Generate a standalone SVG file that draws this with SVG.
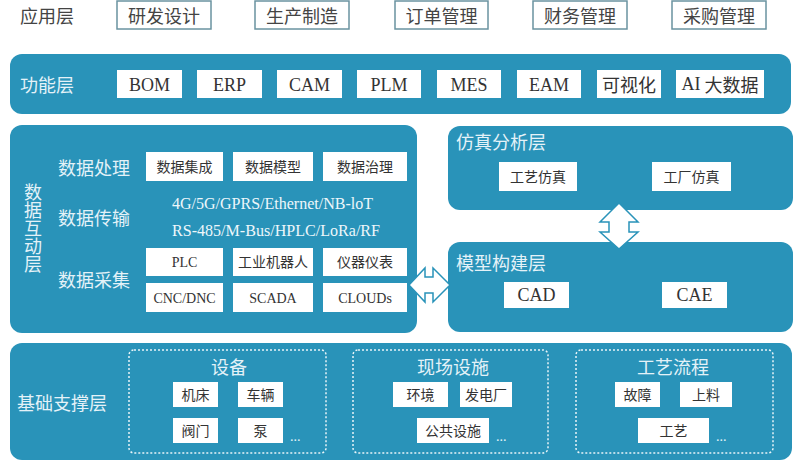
<svg xmlns="http://www.w3.org/2000/svg" width="800" height="471" viewBox="0 0 800 471">
<style>
.panel{fill:#2993b9}
.app{fill:#fff;stroke:#6a93a0;stroke-width:1.5}
.box{fill:#fff}
.grp{fill:none;stroke:#e8f4f8;stroke-width:1.5;stroke-dasharray:2 2}
.cn{font-family:"Noto Sans CJK SC","Noto Sans",sans-serif}
.en{font-family:"Liberation Serif","Times New Roman",serif}
.lab{fill:#e4f2f8;font-size:18px}
.dark{fill:#333}
.apt{fill:#444;font-size:18px}
.bt{font-size:14px}
.ft{font-size:18px}
.arrow{fill:#fff;stroke:#2993b9;stroke-width:1.5;stroke-linejoin:miter}
.vert{writing-mode:vertical-rl}
text{dominant-baseline:central}
</style>
<rect width="800" height="471" fill="#fff"/>
<g id="app-layer">
<text class="cn apt" x="20" y="15">应用层</text>
<g id="app-1"><rect class="app" x="117" y="1" width="94" height="28"/><text class="cn apt" x="164" y="15" text-anchor="middle">研发设计</text></g>
<g id="app-2"><rect class="app" x="255" y="1" width="94" height="28"/><text class="cn apt" x="302" y="15" text-anchor="middle">生产制造</text></g>
<g id="app-3"><rect class="app" x="395" y="1" width="93" height="28"/><text class="cn apt" x="441.5" y="15" text-anchor="middle">订单管理</text></g>
<g id="app-4"><rect class="app" x="533" y="1" width="94" height="28"/><text class="cn apt" x="580" y="15" text-anchor="middle">财务管理</text></g>
<g id="app-5"><rect class="app" x="672" y="1" width="94" height="28"/><text class="cn apt" x="719" y="15" text-anchor="middle">采购管理</text></g>
</g>
<g id="func-layer">
<rect class="panel" x="10" y="54" width="781" height="60" rx="12"/>
<text class="cn lab" x="20" y="84">功能层</text>
<g id="f-bom"><rect class="box" x="117" y="70" width="65" height="28"/><text class="en ft dark" x="149.5" y="85" text-anchor="middle">BOM</text></g>
<g id="f-erp"><rect class="box" x="197" y="70" width="65" height="28"/><text class="en ft dark" x="229.5" y="85" text-anchor="middle">ERP</text></g>
<g id="f-cam"><rect class="box" x="277" y="70" width="65" height="28"/><text class="en ft dark" x="309.5" y="85" text-anchor="middle">CAM</text></g>
<g id="f-plm"><rect class="box" x="357" y="70" width="64" height="28"/><text class="en ft dark" x="389" y="85" text-anchor="middle">PLM</text></g>
<g id="f-mes"><rect class="box" x="437" y="70" width="64" height="28"/><text class="en ft dark" x="469" y="85" text-anchor="middle">MES</text></g>
<g id="f-eam"><rect class="box" x="517" y="70" width="64" height="28"/><text class="en ft dark" x="549" y="85" text-anchor="middle">EAM</text></g>
<g id="f-vis"><rect class="box" x="597" y="70" width="64" height="28"/><text class="cn ft dark" x="629" y="84" text-anchor="middle">可视化</text></g>
<g id="f-ai"><rect class="box" x="676" y="70" width="88" height="28"/><text class="cn ft dark" x="720" y="84" text-anchor="middle"><tspan class="en">AI</tspan> 大数据</text></g>
</g>
<g id="data-layer">
<rect class="panel" x="10" y="125" width="407" height="208" rx="12"/>
<text class="cn vert" fill="#e4f2f8" font-size="18" x="33" y="183">数据互动层</text>
<text class="cn lab" x="58" y="167">数据处理</text>
<text class="cn lab" x="58" y="217">数据传输</text>
<text class="cn lab" x="58" y="279">数据采集</text>
<text class="en" fill="#eef7fb" font-size="16" x="172" y="203" textLength="201" lengthAdjust="spacingAndGlyphs">4G/5G/GPRS/Ethernet/NB-loT</text>
<text class="en" fill="#eef7fb" font-size="16" x="172" y="230" textLength="208" lengthAdjust="spacingAndGlyphs">RS-485/M-Bus/HPLC/LoRa/RF</text>
<g id="d-int"><rect class="box" x="146" y="152" width="77" height="29"/><text class="cn bt dark" x="184.5" y="166" text-anchor="middle">数据集成</text></g>
<g id="d-mod"><rect class="box" x="233" y="152" width="80" height="29"/><text class="cn bt dark" x="273" y="166" text-anchor="middle">数据模型</text></g>
<g id="d-gov"><rect class="box" x="323" y="152" width="84" height="29"/><text class="cn bt dark" x="365" y="166" text-anchor="middle">数据治理</text></g>
<g id="d-plc"><rect class="box" x="146" y="248" width="77" height="28"/><text class="en bt dark" x="184.5" y="262" text-anchor="middle">PLC</text></g>
<g id="d-robot"><rect class="box" x="233" y="248" width="80" height="28"/><text class="cn bt dark" x="273" y="261" text-anchor="middle">工业机器人</text></g>
<g id="d-inst"><rect class="box" x="323" y="248" width="84" height="28"/><text class="cn bt dark" x="365" y="261" text-anchor="middle">仪器仪表</text></g>
<g id="d-cnc"><rect class="box" x="146" y="283" width="77" height="29"/><text class="en bt dark" x="184.5" y="298" text-anchor="middle">CNC/DNC</text></g>
<g id="d-scada"><rect class="box" x="233" y="283" width="80" height="29"/><text class="en bt dark" x="273" y="298" text-anchor="middle">SCADA</text></g>
<g id="d-cloud"><rect class="box" x="323" y="283" width="84" height="29"/><text class="en bt dark" x="365" y="298" text-anchor="middle">CLOUDs</text></g>
</g>
<g id="sim-layer">
<rect class="panel" x="448" y="126" width="345" height="84" rx="12"/>
<text class="cn lab" x="456" y="141">仿真分析层</text>
<g id="s-proc"><rect class="box" x="499" y="162" width="78" height="29"/><text class="cn bt dark" x="538" y="176" text-anchor="middle">工艺仿真</text></g>
<g id="s-fact"><rect class="box" x="652" y="162" width="79" height="29"/><text class="cn bt dark" x="691.5" y="176" text-anchor="middle">工厂仿真</text></g>
</g>
<g id="model-layer">
<rect class="panel" x="448" y="242" width="345" height="90" rx="12"/>
<text class="cn lab" x="456" y="262">模型构建层</text>
<g id="m-cad"><rect class="box" x="504" y="282" width="65" height="26"/><text class="en ft dark" x="536.5" y="295" text-anchor="middle">CAD</text></g>
<g id="m-cae"><rect class="box" x="662" y="282" width="65" height="26"/><text class="en ft dark" x="694.5" y="295" text-anchor="middle">CAE</text></g>
</g>
<g id="base-layer">
<rect class="panel" x="10" y="343" width="782" height="117" rx="12"/>
<text class="cn lab" x="17" y="402">基础支撑层</text>
<g id="g-equip">
<rect class="grp" x="129" y="350" width="197" height="103" rx="5"/>
<text class="cn lab" x="229" y="366" text-anchor="middle">设备</text>
<rect class="box" x="173" y="382" width="45" height="25"/><text class="cn bt dark" x="195.5" y="394" text-anchor="middle">机床</text>
<rect class="box" x="238" y="382" width="45" height="25"/><text class="cn bt dark" x="260.5" y="394" text-anchor="middle">车辆</text>
<rect class="box" x="173" y="418" width="45" height="25"/><text class="cn bt dark" x="195.5" y="430" text-anchor="middle">阀门</text>
<rect class="box" x="238" y="418" width="45" height="25"/><text class="cn bt dark" x="260.5" y="430" text-anchor="middle">泵</text>
<text class="en" fill="#e4f2f8" font-size="14" x="290" y="436">...</text>
</g>
<g id="g-site">
<rect class="grp" x="353" y="350" width="195" height="103" rx="5"/>
<text class="cn lab" x="453" y="366" text-anchor="middle">现场设施</text>
<rect class="box" x="393" y="382" width="55" height="25"/><text class="cn bt dark" x="420.5" y="394" text-anchor="middle">环境</text>
<rect class="box" x="460" y="382" width="52" height="25"/><text class="cn bt dark" x="486" y="394" text-anchor="middle">发电厂</text>
<rect class="box" x="417" y="418" width="72" height="25"/><text class="cn bt dark" x="453" y="430" text-anchor="middle">公共设施</text>
<text class="en" fill="#e4f2f8" font-size="14" x="496" y="436">...</text>
</g>
<g id="g-flow">
<rect class="grp" x="576" y="350" width="197" height="103" rx="5"/>
<text class="cn lab" x="673" y="366" text-anchor="middle">工艺流程</text>
<rect class="box" x="615" y="382" width="45" height="25"/><text class="cn bt dark" x="637.5" y="394" text-anchor="middle">故障</text>
<rect class="box" x="680" y="382" width="52" height="25"/><text class="cn bt dark" x="706" y="394" text-anchor="middle">上料</text>
<rect class="box" x="638" y="418" width="71" height="25"/><text class="cn bt dark" x="673.5" y="430" text-anchor="middle">工艺</text>
<text class="en" fill="#e4f2f8" font-size="14" x="716" y="436">...</text>
</g>
</g>
<g id="connectors">
<path class="arrow" d="M409,285 L425,268 L425,277 L433,277 L433,268 L450,285 L433,302 L433,293 L425,293 L425,302 Z"/>
<path class="arrow" d="M619,203 L638,222 L629,222 L629,232 L638,232 L619,249 L600,232 L609,232 L609,222 L600,222 Z"/>
</g>
</svg>
